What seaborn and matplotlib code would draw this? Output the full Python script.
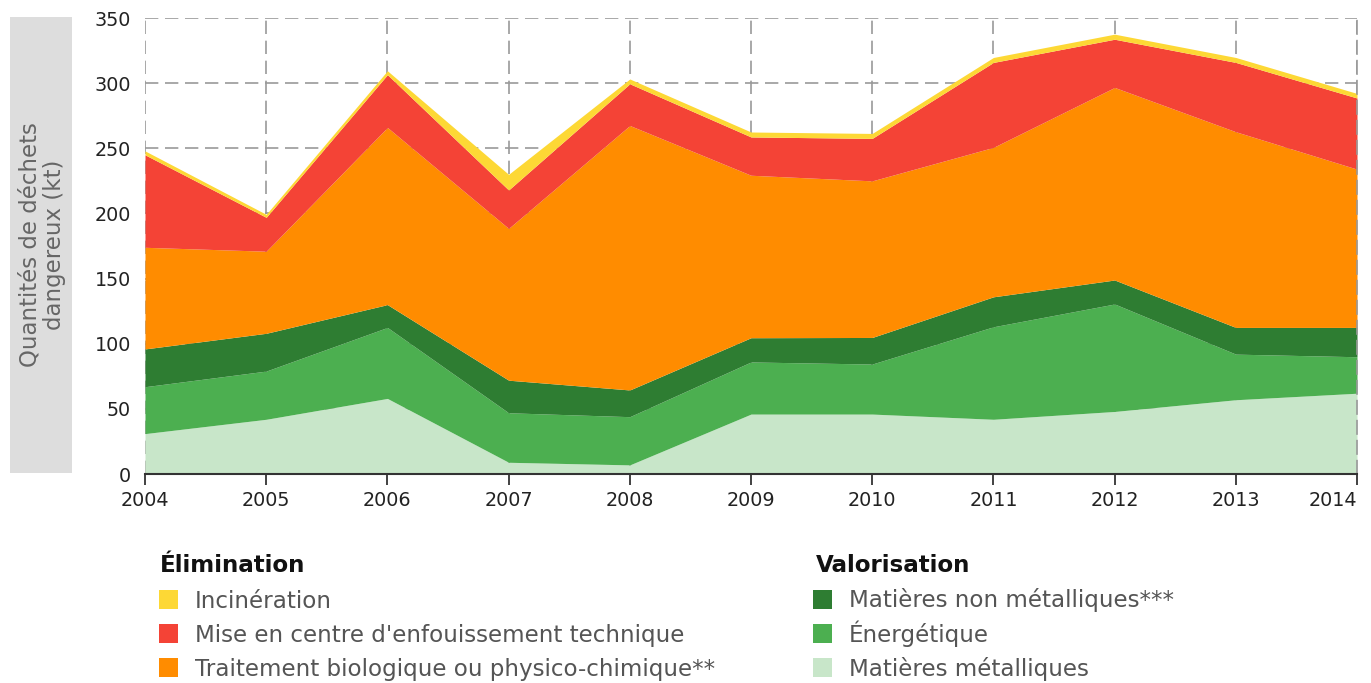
import matplotlib
matplotlib.use("Agg")
import matplotlib.pyplot as plt
from matplotlib.patches import Rectangle
import seaborn as sns
import numpy as np

years = [2004, 2005, 2006, 2007, 2008, 2009, 2010, 2011, 2012, 2013, 2014]
metalliques = [31, 42, 58, 9, 7, 46, 46, 42, 48, 57, 62]
energetique = [36, 37, 54.5, 38, 37, 40, 38.4, 71, 82.5, 35, 28]
non_metalliques = [29, 29, 17.5, 25, 20.5, 18.6, 20.4, 23, 18.4, 20.5, 22.5]
traitement = [78, 63, 136, 116.5, 203, 124.7, 120.2, 114.7, 147.8, 150.2, 121.5]
enfouissement = [71, 26, 40.5, 29.5, 32, 29.4, 32.6, 65.2, 37, 53.2, 54.6]
incineration = [3, 2.3, 3, 12, 3.7, 3.8, 3.8, 3.8, 3.9, 3.8, 3.5]

elim_title = "Élimination"
valo_title = "Valorisation"
elim_labels = ["Incinération", "Mise en centre d'enfouissement technique",
               "Traitement biologique ou physico-chimique**"]
valo_labels = ["Matières non métalliques***", "Énergétique", "Matières métalliques"]

c_inc = "#FDD835"
c_enf = "#F44336"
c_trt = "#FF8C00"
c_nm = "#2E7D32"
c_en = "#4CAF50"
c_met = "#C8E6C9"

sns.set_theme(style="white")
plt.rcParams['font.family'] = ['DejaVu Sans']

W, H = 1371, 683
fig = plt.figure(figsize=(W / 100, H / 100), dpi=100)
ax = fig.add_axes([145/W, 1-474/H, (1357-145)/W, (474-18)/H])

dash = (0, (8, 4))
ax.set_axisbelow(True)
ax.grid(True, color="#999999", linestyle=dash, linewidth=1.2)

ax.stackplot(years, metalliques, energetique, non_metalliques, traitement,
             enfouissement, incineration,
             colors=[c_met, c_en, c_nm, c_trt, c_enf, c_inc], linewidth=0, zorder=2)

ax.set_xlim(2004, 2014)
ax.set_ylim(0, 350)
ax.set_xticks(years)
ax.set_yticks(range(0, 351, 50))
for s in ["top", "left"]:
    ax.spines[s].set_visible(False)
ax.spines["right"].set_color("#999999")
ax.spines["right"].set_linestyle(dash)
ax.spines["right"].set_linewidth(1.2)
ax.spines["right"].set_zorder(4)
ax.spines["bottom"].set_color("#333333")
ax.spines["bottom"].set_linewidth(1.5)
ax.spines["bottom"].set_zorder(5)
ax.tick_params(axis="x", direction="out", length=8, width=1.3, color="#333333",
               labelsize=13.8, labelcolor="#222222", pad=4, bottom=True)
ax.tick_params(axis="y", length=0, labelsize=13.8, labelcolor="#222222", pad=10)
xt = ax.get_xticklabels()
xt[-1].set_horizontalalignment("right")
xt[-1].set_x(2014)

# y label box
fig.add_artist(Rectangle((10/W, 1-473/H), 62/W, (473-17)/H,
                         transform=fig.transFigure, facecolor="#DDDDDD",
                         edgecolor="none"))
fig.text(42/W, 1-245/H, "Quantités de déchets\ndangereux (kt)", rotation=90,
         ha="center", va="center", fontsize=16.5, color="#666666", linespacing=1.1)

# legend (two titled columns)
def legend_column(x_sq, x_title, title, labels, colors):
    fig.text(x_title/W, 1-572/H, title, ha="left", va="baseline",
             fontsize=16.6, fontweight="bold", color="#111111")
    for i, (lab, col) in enumerate(zip(labels, colors)):
        cy = 599.5 + i * 34.2
        fig.add_artist(Rectangle((x_sq/W, 1-(cy+9.5)/H), 19/W, 19/H,
                                 transform=fig.transFigure, facecolor=col,
                                 edgecolor="none"))
        fig.text((x_sq+36)/W, 1-(cy+8)/H, lab, ha="left", va="baseline",
                 fontsize=16.6, color="#555555")

legend_column(159, 160, elim_title, elim_labels, [c_inc, c_enf, c_trt])
legend_column(813, 816, valo_title, valo_labels, [c_nm, c_en, c_met])

fig.savefig("out.png", dpi=100)
